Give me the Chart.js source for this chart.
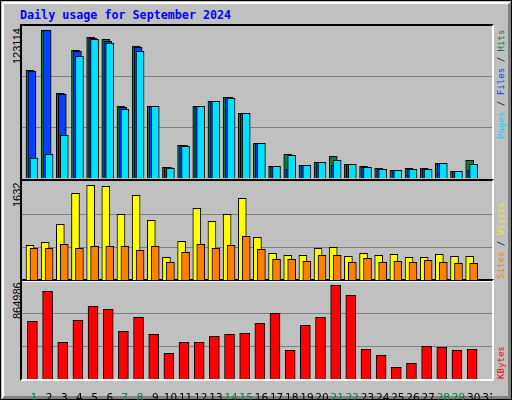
<!DOCTYPE html>
<html><head><meta charset="utf-8">
<script src="https://cdn.jsdelivr.net/npm/chart.js@4"></script>
<style>
html,body{margin:0;padding:0;background:#fff}
#wrap{position:absolute;left:0;top:0;width:512px;height:400px;background:#C0C0C0;box-sizing:border-box;border:1px solid #000}
#hl{position:absolute;left:1px;top:1px;border-top:2px solid #fff;border-left:2px solid #fff;border-right:3px solid #808080;border-bottom:3px solid #808080;box-sizing:border-box;height:397px;width:509px}
.panel{position:absolute;box-sizing:border-box;border-top:2px solid #000;border-left:2px solid #000;border-right:2px solid #fff;border-bottom:2px solid #fff}
canvas{position:absolute}
.t{position:absolute;white-space:nowrap;font-family:"DejaVu Sans Mono",monospace;}
.rot{transform-origin:0 0;transform:rotate(-90deg)}
</style></head><body>
<div id="wrap"><div id="hl"></div>
<div class="t" style="left:19px;top:7px;font-size:11.7px;font-weight:bold;color:#0000FF">Daily usage for September 2024</div>
<div class="panel" style="left:19px;top:23px;width:474px;height:157px"></div>
<div class="panel" style="left:19px;top:178px;width:474px;height:103px"></div>
<div class="panel" style="left:19px;top:278px;width:474px;height:102px"></div>
<div class="t rot" style="left:10px;top:63px;font-family:'Liberation Sans';font-size:11px">123114</div>
<div class="t rot" style="left:10px;top:206px;font-family:'Liberation Sans';font-size:11px">1632</div>
<div class="t rot" style="left:10px;top:318px;font-family:'Liberation Sans';font-size:11px">864986</div>
<div class="t rot" style="left:495px;top:138px;font-size:9.1px"><span style="color:#00D8F8">Pages</span> / <span style="color:#0040FF">Files</span> / <span style="color:#008040">Hits</span></div>
<div class="t rot" style="left:495px;top:278px;font-size:9.1px"><span style="color:#FF8000">Sites</span> / <span style="color:#F0F000">Visits</span></div>
<div class="t rot" style="left:495px;top:378px;font-size:9.1px"><span style="color:#FF0000">KBytes</span></div>
<canvas id="c1" style="left:21px;top:25px;width:470px;height:152px"></canvas>
<canvas id="c2" style="left:21px;top:180px;width:470px;height:99px"></canvas>
<canvas id="c3" style="left:21px;top:280px;width:470px;height:120px"></canvas>
</div>
<script>
const days=[1,2,3,4,5,6,7,8,9,10,11,12,13,14,15,16,17,18,19,20,21,22,23,24,25,26,27,28,29,30,31];
const weekendDays=[1,7,8,14,15,21,22,28,29];
const hits=[89606,123114,70470,106246,117062,115398,59654,109824,59654,8902,27206,59654,63814,67142,53830,28870,9734,19718,10566,13062,18054,11398,9734,8070,6406,8070,8070,12230,5574,14726,0];
const files=[88774,122886,69638,105414,116230,113734,58822,108742,59654,8570,27206,59654,63814,67142,53830,28870,9734,7488,10566,13062,10566,11398,8902,7238,6406,7238,7238,12230,5574,6406,0];
const pages=[16640,19718,35526,101254,115398,112320,57158,105414,59654,8070,26374,59654,63814,66310,53830,28870,9734,18886,10566,13062,14726,11398,8902,7238,6406,7238,7238,12230,5574,11398,0];
const visits=[598,650,960,1494,1632,1614,1132,1459,1029,391,667,1235,1011,1132,1408,736,460,426,426,546,563,408,460,426,443,391,391,443,408,408,0];
const sites=[546,546,615,546,581,581,581,512,581,305,477,615,546,598,753,529,357,357,322,426,426,305,374,305,322,305,339,305,288,288,0];
const kbytes=[532629,809559,338778,541860,671094,643401,440319,569553,412626,237237,338778,338778,394164,412626,421857,514167,606477,264930,495705,569553,864986,772635,274161,218775,108003,144927,301854,292623,264930,274161,0];
const maxHits=126450, maxVisits=1706, maxKB=904600;

function pts(arr,off){return days.map((d,i)=>({x:d+off,y:arr[i]})).filter(p=>p.y>0);}
function ds(arr,off,color,order,w){return {data:pts(arr,off),backgroundColor:color,borderColor:'#000',borderWidth:1,borderSkipped:'bottom',barThickness:w,grouped:false,order:order};}
function yAxis(max){return {min:0,max:max,display:true,border:{display:false},ticks:{display:false},
  grid:{drawTicks:false,color:'#808080',lineWidth:1},
  afterBuildTicks:s=>{s.ticks=[{value:max/3},{value:2*max/3}];},afterFit:s=>{s.width=0;}};}
const xHidden={type:'linear',min:0.342,max:31.342,display:false,offset:false,grid:{offset:false}};
const base={responsive:false,animation:false,devicePixelRatio:1,layout:{padding:0},
  plugins:{legend:{display:false},tooltip:{enabled:false}}};
function mk(id,w,h,datasets,scales){const c=document.getElementById(id);c.width=w;c.height=h;
  return new Chart(c,{type:'bar',data:{datasets},options:Object.assign({},base,{scales})});}
mk('c1',470,152,[ds(hits,-0.13,'#008040',3,8),ds(files,0,'#0040FF',2,8),ds(pages,0.13,'#00E0FF',1,8)],{x:xHidden,y:yAxis(maxHits)});
mk('c2',470,99,[ds(visits,-0.13,'#FFFF00',2,8),ds(sites,0.13,'#FF8000',1,8)],{x:xHidden,y:yAxis(maxVisits)});
mk('c3',470,120,[ds(kbytes,0.03,'#FF0000',1,10)],{
  x:{type:'linear',min:0.342,max:31.342,display:true,offset:false,border:{display:false},grid:{display:false,offset:false},
    afterBuildTicks:s=>{s.ticks=days.map(d=>({value:d}));},afterFit:s=>{s.height=22;s.paddingLeft=0;s.paddingRight=0;},
    ticks:{autoSkip:false,maxRotation:0,padding:5,labelOffset:2,font:{family:'DejaVu Sans',size:10.5},
      callback:v=>String(v),color:c=>weekendDays.includes(c.tick.value)?'#008040':'#000'}},
  y:yAxis(maxKB)});
</script></body></html>
